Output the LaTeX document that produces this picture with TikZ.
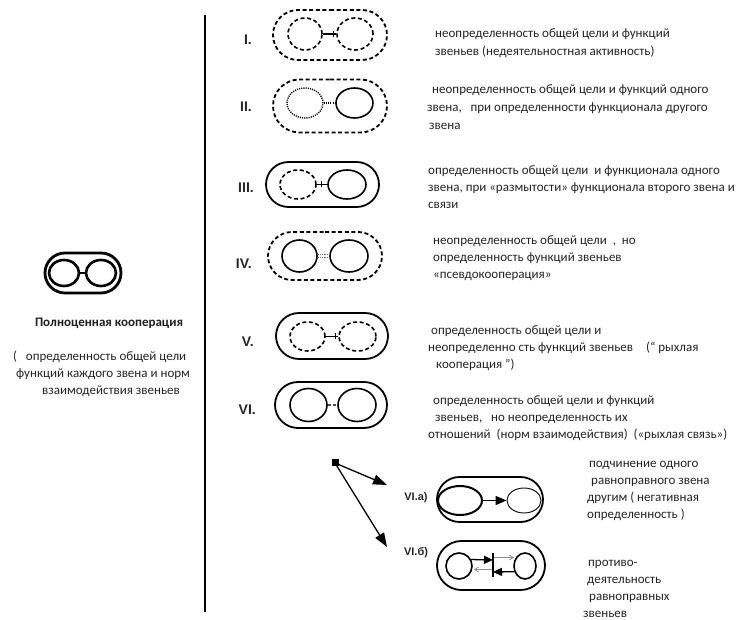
\documentclass[tikz,border=0pt]{standalone}
\usepackage{fontspec}
\setmainfont{Carlito}
\newfontfamily\labfont{Liberation Sans}
\usetikzlibrary{shapes.misc,shapes.geometric,arrows.meta}
\begin{document}
\begin{tikzpicture}[x=1pt,y=-1pt,
  outer/.style={rounded rectangle, draw, line width=1.8pt, inner sep=0pt},
  link/.style={ellipse, draw, line width=1.6pt, inner sep=0pt},
  dsh/.style={dash pattern=on 4pt off 2.6pt},
  dts/.style={dash pattern=on 1.1pt off 1.1pt},
  roman/.style={anchor=east, inner sep=0pt, font=\labfont\bfseries\fontsize{14}{16}\selectfont, text=black!85},
  sublab/.style={inner sep=0pt, font=\labfont\bfseries\fontsize{11}{13}\selectfont, text=black!85},
  desc/.style={anchor=north west, align=left, inner sep=0pt, font=\fontsize{13}{17}\selectfont, text=black!86},
  bigtip/.style={-{Triangle[length=14pt,width=10pt]}},
  tick/.style={line width=1.3pt},
]
\useasboundingbox (0,0) rectangle (740,620);

% divider
\coordinate (dtop) at (205,15);
\coordinate (dbot) at (205,612);
\draw[line width=2.5pt] (dtop) -- (dbot);

% full cooperation
\node[outer, line width=2.8pt, minimum width=76pt, minimum height=40pt] (F) at (83,273) {};
\node[link, line width=2.6pt, minimum width=30pt, minimum height=26pt] (Fl) at (64,273) {};
\node[link, line width=2.6pt, minimum width=30pt, minimum height=26pt] (Fr) at (101,273) {};
\draw[line width=2.6pt] (Fl) -- (Fr);
\node[font=\bfseries\fontsize{13}{15}\selectfont, text=black!88] (Ft) at (109,323) {Полноценная кооперация};
\node[anchor=north west, align=left, inner sep=0pt, font=\fontsize{13}{17}\selectfont, text=black!86] (Fd) at (13,351)
  {(\ \ \ определенность общей цели\\
   \hspace*{3pt}функций каждого звена и норм\\
   \hspace*{29pt}взаимодействия звеньев};

% I
\node[outer, dsh, minimum width=114pt, minimum height=50pt] (o1) at (330,35) {};
\node[link, dsh, minimum width=34pt, minimum height=32pt] (a1) at (305,34) {};
\node[link, dsh, minimum width=36pt, minimum height=32pt] (b1) at (355,34) {};
\draw[tick] (a1) -- (b1);
\draw[tick] ([xshift=-3pt]b1.west) ++(0,-3) -- ++(0,6);
\node[roman] (r1) at (252,40) {I.};
\node[desc, font=\fontsize{13}{18}\selectfont] (t1) at (435,28)
  {неопределенность общей цели и функций\\
   звеньев (недеятельностная активность)};

% II
\node[outer, dsh, minimum width=114pt, minimum height=53pt] (o2) at (330,106) {};
\node[link, dts, line width=1.4pt, minimum width=36pt, minimum height=30pt] (a2) at (305,103) {};
\node[link, minimum width=37pt, minimum height=30pt] (b2) at (354.5,103) {};
\draw[dts, line width=1.2pt] (a2) -- (b2);
\node[roman] (r2) at (252,107) {II.};
\node[desc, font=\fontsize{13}{18}\selectfont] (t2) at (432,84)
  {неопределенность общей цели и функций одного\\
   \hspace*{-5pt}звена,\ \ \ при определенности функционала другого\\
   \hspace*{-3pt}звена};

% III
\node[outer, minimum width=113pt, minimum height=45pt] (o3) at (322.5,184.5) {};
\node[link, dsh, minimum width=36pt, minimum height=29pt] (a3) at (298,184.5) {};
\node[link, minimum width=38pt, minimum height=29pt] (b3) at (347,184.5) {};
\draw[tick] (a3) -- (b3);
\draw[tick] ([xshift=-6pt]b3.west) ++(0,-3) -- ++(0,6);
\node[roman] (r3) at (254,188) {III.};
\node[desc] (t3) at (428,165)
  {определенность общей цели\ \ и функционала одного\\
   звена, при «размытости» функционала второго звена и\\
   связи};

% IV
\node[outer, dsh, minimum width=114pt, minimum height=48pt] (o4) at (325,256) {};
\node[link, minimum width=35pt, minimum height=32pt] (a4) at (299.5,256) {};
\node[link, minimum width=38pt, minimum height=32pt] (b4) at (349,256) {};
\draw[dts, line width=0.9pt, black!60] ([yshift=-1.4pt]a4.east) -- ([yshift=-1.4pt]b4.west);
\draw[dts, line width=0.9pt, black!60] ([yshift=1.4pt]a4.east) -- ([yshift=1.4pt]b4.west);
\node[roman] (r4) at (252,264) {IV.};
\node[desc] (t4) at (433,235)
  {неопределенность общей цели\ \ ,\ \ но\\
   определенность функций звеньев\\
   «псевдокооперация»};

% V
\node[outer, minimum width=112pt, minimum height=46pt] (o5) at (332,336) {};
\node[link, dsh, minimum width=35pt, minimum height=29pt] (a5) at (307.5,336.5) {};
\node[link, dsh, minimum width=37pt, minimum height=29pt] (b5) at (357.5,336.5) {};
\draw[tick] (a5) -- (b5);
\draw[tick] ([xshift=-3pt]b5.west) ++(0,-3) -- ++(0,6);
\node[roman] (r5) at (254,342) {V.};
\node[desc] (t5) at (431,325)
  {определенность общей цели и\\
   \hspace*{-3pt}неопределенно сть функций звеньев\quad(“ рыхлая\\
   \hspace*{5pt}кооперация ”)};

% VI
\node[outer, minimum width=112pt, minimum height=46pt] (o6) at (331,405) {};
\node[link, minimum width=37pt, minimum height=33pt] (a6) at (308.5,405) {};
\node[link, minimum width=38pt, minimum height=33pt] (b6) at (357,405) {};
\draw[dash pattern=on 3pt off 2pt, line width=1.1pt, black!70] (a6) -- (b6);
\node[roman] (r6) at (256,410) {VI.};
\node[desc] (t6) at (428,395)
  {\hspace*{5pt}определенность общей цели и функций\\
   \hspace*{7pt}звеньев,\ \ \ но неопределенность их\\
   отношений\ \ (норм взаимодействия)\ \ («рыхлая связь»)};

% branching arrows
\node[fill=black, minimum size=7pt, inner sep=0pt] (sq) at (335,463) {};
\coordinate (ea) at (387,485);
\coordinate (eb) at (387,547);
\draw[bigtip, line width=1.3pt] (sq.center) -- (ea);
\draw[bigtip, line width=1.3pt] (sq.center) -- (eb);

% VI.a
\node[outer, minimum width=106pt, minimum height=45pt] (o7) at (490,499.5) {};
\node[link, line width=2pt, minimum width=44pt, minimum height=29pt] (a7) at (460,500.5) {};
\node[link, line width=0.9pt, minimum width=34pt, minimum height=25pt] (b7) at (524,500.5) {};
\draw[line width=1.5pt, -{Triangle[length=11pt,width=9pt]}] (a7) -- (b7);
\node[sublab] (r7) at (416,498) {VI.a)};
\node[desc] (t7) at (589,461)
  {подчинение одного\\
   \hspace*{2pt}равноправного звена\\
   \hspace*{-2pt}другим ( негативная\\
   \hspace*{-2pt}определенность )};

% VI.b
\node[outer, minimum width=108pt, minimum height=49pt] (o8) at (491,565.5) {};
\node[link, minimum width=26pt, minimum height=26pt] (a8) at (459,566) {};
\node[link, minimum width=22pt, minimum height=26pt] (b8) at (525,566) {};
\coordinate (bt) at (493,553);
\coordinate (bb) at (493,577);
\draw[line width=1.5pt] (bt) -- (bb);
\coordinate (ta) at (493,560);
\coordinate (tb) at (493,572);
\coordinate (ga) at (494,557.5);
\coordinate (gb) at (514,557.5);
\coordinate (gc) at (492,569.5);
\coordinate (gd) at (474,569.5);
\draw[line width=1.3pt, -{Triangle[length=9pt,width=8pt]}] (a8.28) -- (ta);
\draw[line width=1.3pt, -{Triangle[length=9pt,width=8pt]}] (b8.208) -- (tb);
\draw[line width=0.7pt, black!45, -{Straight Barb[length=4pt,width=5pt]}] (ga) -- (gb);
\draw[line width=0.7pt, black!45, -{Straight Barb[length=4pt,width=5pt]}] (gc) -- (gd);
\node[sublab] (r8) at (416,553) {VI.б)};
\node[desc] (t8) at (588,560)
  {противо-\\
   \hspace*{-1pt}деятельность\\
   \hspace*{1pt}равноправных\\
   \hspace*{-5pt}звеньев};
\end{tikzpicture}
\end{document}
